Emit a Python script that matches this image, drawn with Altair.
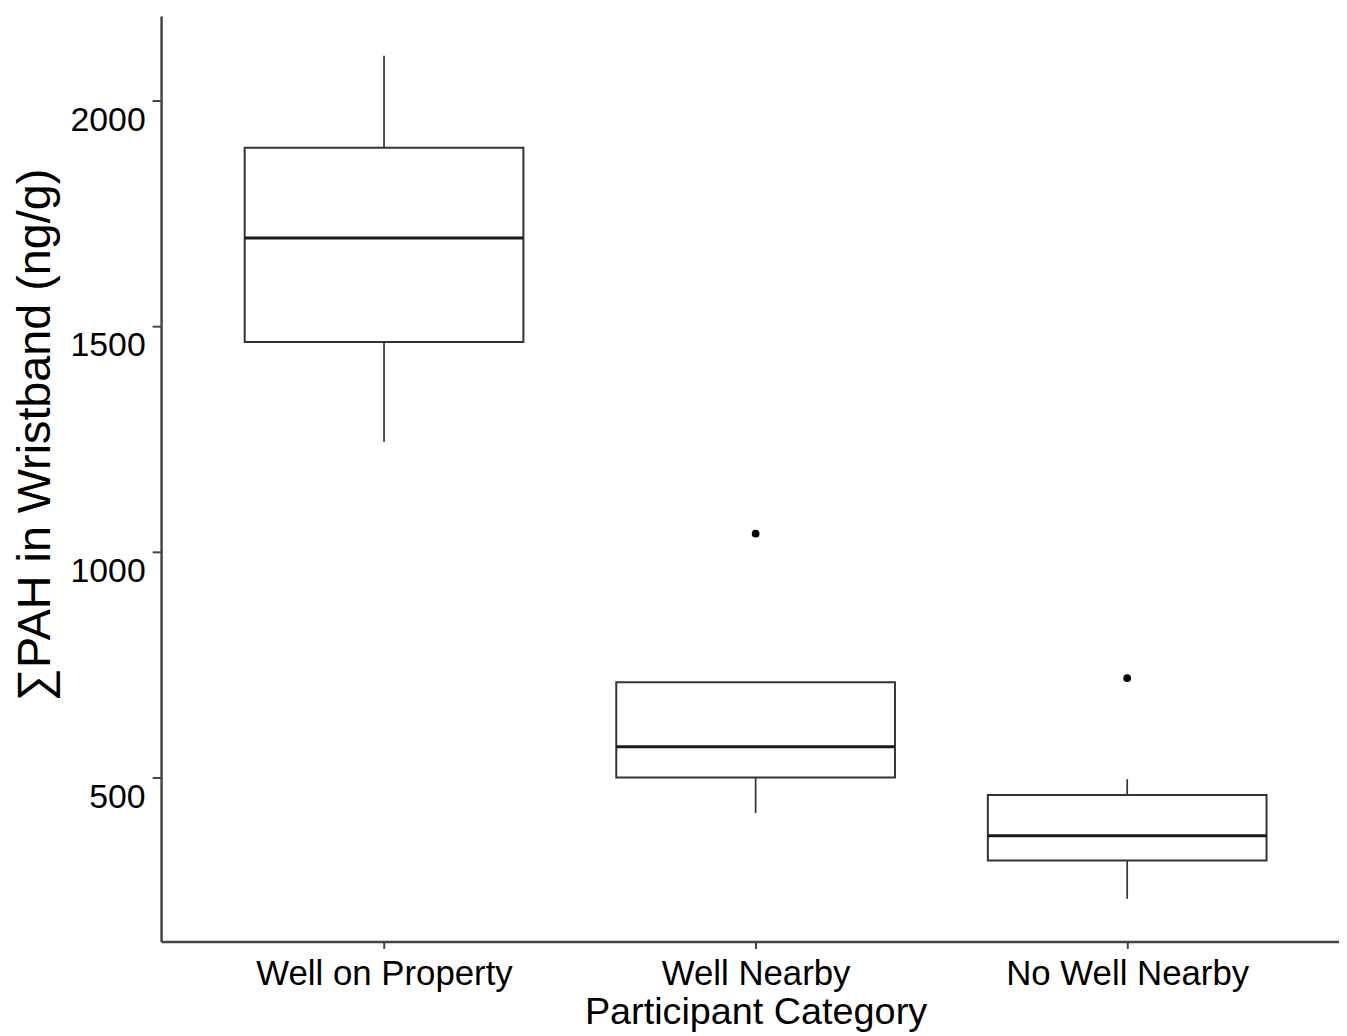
import altair as alt
import pandas as pd

categories = ["Well on Property", "Well Nearby", "No Well Nearby"]
whisker_low = [1244, 421, 231]
q1 = [1465, 500, 316]
median = [1695, 568, 371]
q3 = [1895, 711, 461]
whisker_high = [2099, 711, 496]
outlier_cat = ["Well Nearby", "No Well Nearby"]
outlier_val = [1040, 720]

df = pd.DataFrame({
    "category": categories,
    "pos": list(range(1, len(categories) + 1)),
    "low": whisker_low,
    "q1": q1,
    "median": median,
    "q3": q3,
    "high": whisker_high,
})
out_df = pd.DataFrame({
    "category": outlier_cat,
    "pos": [categories.index(c) + 1 for c in outlier_cat],
    "value": outlier_val,
})

FONT = "Liberation Sans"
LINE = "#333333"
HALF = 0.375  # half box width, in category units

label_expr = " : ".join(
    f"datum.value == {i + 1} ? '{c}'" for i, c in enumerate(categories)
) + " : ''"

x_scale = alt.Scale(domain=[0.4, 3.57], nice=False, zero=False)
x_axis = alt.Axis(
    title="Participant Category",
    values=[1, 2, 3],
    labelExpr=label_expr,
    labelAngle=0,
    labelLimit=0,
    labelFontSize=35,
    labelFont=FONT,
    labelColor="#000000",
    tickSize=7,
    labelPadding=8,
    titleFontSize=38,
    titleFont=FONT,
    titleFontWeight="normal",
    titleColor="#000000",
    titleX=598,
    titleY=83,
    titleAlign="center",
    titleBaseline="alphabetic",
)

y_scale = alt.Scale(domain=[136.5, 2187], nice=False, zero=False)
y_axis = alt.Axis(
    title="∑PAH in Wristband (ng/g)",
    values=[500, 1000, 1500, 2000],
    format="d",
    labelFontSize=34,
    labelFont=FONT,
    labelColor="#000000",
    labelBaseline="top",
    labelOffset=3,
    tickSize=9,
    labelPadding=7,
    titleFontSize=47,
    titleFont=FONT,
    titleFontWeight="normal",
    titleColor="#000000",
    titleAngle=270,
    titleX=-112,
    titleY=421,
    titleAlign="center",
    titleBaseline="alphabetic",
)

base = alt.Chart(df).transform_calculate(
    lo=f"datum.pos - {HALF}", hi=f"datum.pos + {HALF}"
)

lower = base.mark_rule(color=LINE, strokeWidth=1.7).encode(
    x=alt.X("pos:Q", scale=x_scale, axis=x_axis),
    y=alt.Y("low:Q", scale=y_scale, axis=y_axis),
    y2="q1:Q",
)
upper = base.mark_rule(color=LINE, strokeWidth=1.7).encode(
    x=alt.X("pos:Q", scale=x_scale, axis=x_axis),
    y=alt.Y("q3:Q", scale=y_scale, axis=y_axis),
    y2="high:Q",
)
box = base.mark_rect(fill="white", stroke=LINE, strokeWidth=2).encode(
    x=alt.X("lo:Q", scale=x_scale, axis=x_axis),
    x2="hi:Q",
    y=alt.Y("q1:Q", scale=y_scale, axis=y_axis),
    y2="q3:Q",
)
med = base.mark_rule(color="#1a1a1a", strokeWidth=3).encode(
    x=alt.X("lo:Q", scale=x_scale, axis=x_axis),
    x2="hi:Q",
    y=alt.Y("median:Q", scale=y_scale, axis=y_axis),
)
outliers = alt.Chart(out_df).mark_circle(size=60, color="#000000", opacity=1).encode(
    x=alt.X("pos:Q", scale=x_scale, axis=x_axis),
    y=alt.Y("value:Q", scale=y_scale, axis=y_axis),
)

chart = (
    alt.layer(lower, upper, box, med, outliers)
    .properties(
        width=1185,
        height=931,
        autosize=alt.AutoSizeParams(type="none"),
        padding={"left": 154, "top": 5, "right": 0, "bottom": 92},
    )
    .configure_view(stroke=None)
    .configure_axis(
        grid=False,
        domainColor="#444444",
        domainWidth=2.5,
        tickColor="#444444",
        tickWidth=2,
    )
)

chart.save("out.html", embed_options={"renderer": "svg", "actions": False})
